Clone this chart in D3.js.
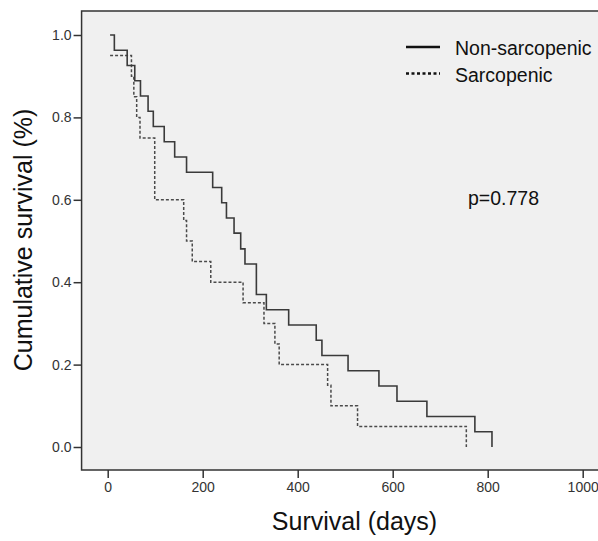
<!DOCTYPE html>
<html><head><meta charset="utf-8">
<script src="https://cdn.jsdelivr.net/npm/d3@7"></script>
<style>
html,body{margin:0;padding:0;background:#fff;}
svg{display:block;font-family:"Liberation Sans",Arial,sans-serif;}
</style></head>
<body>
<svg id="chart" width="598" height="541"></svg>
<script>
// Kaplan-Meier step data
const nonSarcTimes = [5, 14, 41, 57, 69, 85, 96, 119, 141, 166, 221, 240, 250, 266, 280, 289, 313, 334, 381, 439, 451, 506, 571, 609, 672, 773, 809];
const nonSarcSurv  = [1.000, 0.963, 0.926, 0.889, 0.852, 0.815, 0.778, 0.741, 0.704, 0.667, 0.630, 0.593, 0.556, 0.519, 0.481, 0.444, 0.370, 0.333, 0.296, 0.259, 0.222, 0.185, 0.148, 0.111, 0.074, 0.037, 0.000];
const sarcTimes = [5, 50, 55, 61, 68, 99, 160, 166, 178, 217, 285, 329, 352, 361, 463, 470, 526, 755];
const sarcSurv  = [0.95, 0.90, 0.85, 0.80, 0.75, 0.60, 0.55, 0.50, 0.45, 0.40, 0.35, 0.30, 0.25, 0.20, 0.15, 0.10, 0.05, 0.00];
const xTicks = [0, 200, 400, 600, 800, 1000];
const yTicks = [0.0, 0.2, 0.4, 0.6, 0.8, 1.0];
const seriesNames = ["Non-sarcopenic", "Sarcopenic"];
const pLabel = "p=0.778";
const xTitle = "Survival (days)";
const yTitle = "Cumulative survival (%)";

const svg = d3.select("#chart");
const x = d3.scaleLinear().domain([0, 1000]).range([107.7, 582.7]);
const y = d3.scaleLinear().domain([0, 1]).range([447, 35]);

const frameL = x(-55), frameR = 602, frameT = 11, frameB = 470;

svg.append("rect").attr("x", frameL).attr("y", frameT)
  .attr("width", frameR - frameL).attr("height", frameB - frameT)
  .attr("fill", "#f0f0f0").attr("stroke", "#333").attr("stroke-width", 1.5);

// X axis
const xAxis = d3.axisBottom(x).tickValues(xTicks).tickFormat(d3.format("d")).tickSize(8).tickPadding(4);
const gx = svg.append("g").attr("transform", `translate(0,${frameB})`).call(xAxis);
gx.select(".domain").remove();
gx.selectAll("line").attr("stroke", "#333").attr("stroke-width", 1.5);
gx.selectAll("text").attr("font-size", 14).attr("fill", "#333").attr("font-family", "Liberation Sans, Arial, sans-serif");

// Y axis
const yAxis = d3.axisLeft(y).tickValues(yTicks).tickFormat(d3.format(".1f")).tickSize(8).tickPadding(2);
const gy = svg.append("g").attr("transform", `translate(${frameL},0)`).call(yAxis);
gy.select(".domain").remove();
gy.selectAll("line").attr("stroke", "#333").attr("stroke-width", 1.5);
gy.selectAll("text").attr("font-size", 14).attr("fill", "#333").attr("font-family", "Liberation Sans, Arial, sans-serif");

// Curves
const line = d3.line().x(d => x(d[0])).y(d => y(d[1])).curve(d3.curveStepAfter);
const nonSarc = nonSarcTimes.map((t, i) => [t, nonSarcSurv[i]]);
const sarc = sarcTimes.map((t, i) => [t, sarcSurv[i]]);

svg.append("path").datum(sarc).attr("d", line)
  .attr("fill", "none").attr("stroke", "#4a4a4a").attr("stroke-width", 1.5)
  .attr("stroke-dasharray", "3,2");
svg.append("path").datum(nonSarc).attr("d", line)
  .attr("fill", "none").attr("stroke", "#3a3a3a").attr("stroke-width", 1.6);

// Legend
const lg = svg.append("g");
lg.append("line").attr("x1", 406).attr("x2", 440).attr("y1", 47).attr("y2", 47)
  .attr("stroke", "#111").attr("stroke-width", 2.5);
lg.append("line").attr("x1", 406).attr("x2", 440).attr("y1", 73.5).attr("y2", 73.5)
  .attr("stroke", "#111").attr("stroke-width", 2.5).attr("stroke-dasharray", "3,2.5");
lg.append("text").attr("x", 455).attr("y", 55).attr("font-size", 19.5).attr("fill", "#111").text(seriesNames[0]);
lg.append("text").attr("x", 455).attr("y", 81.5).attr("font-size", 19.5).attr("fill", "#111").text(seriesNames[1]);

svg.append("text").attr("x", 468).attr("y", 205).attr("font-size", 19.5).attr("fill", "#111").text(pLabel);

// Axis titles
svg.append("text").attr("x", 354.5).attr("y", 530).attr("text-anchor", "middle")
  .attr("font-size", 25).attr("fill", "#111").text(xTitle);
svg.append("text").attr("transform", "translate(32,240) rotate(-90)").attr("text-anchor", "middle")
  .attr("font-size", 25).attr("fill", "#111").text(yTitle);
</script>
</body></html>
